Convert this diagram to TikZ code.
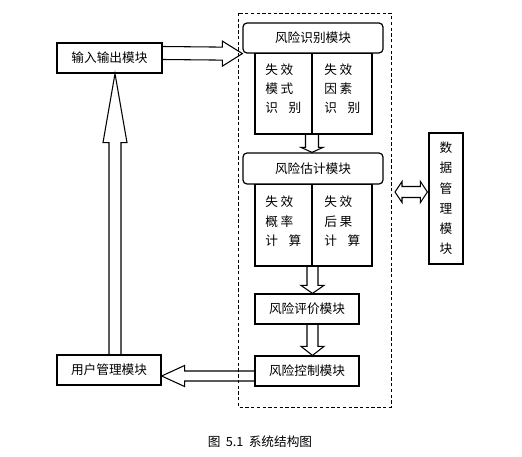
\documentclass[tikz,border=0pt]{standalone}
\usepackage{fontspec}
\setmainfont{Noto Sans CJK SC}
\usetikzlibrary{calc}
\begin{document}
\begin{tikzpicture}[x=0.75pt,y=-0.75pt,
  txt/.style={font=\fontsize{9.5}{11}\selectfont,inner sep=0pt},
  box/.style={draw,line width=0.9pt,inner sep=0pt,font=\fontsize{9.5}{11}\selectfont},
  rbox/.style={box,rounded corners=3pt},
  harrow/.style={draw,line width=0.8pt,line join=miter},
  dashbox/.style={draw,dashed,line width=0.7pt,dash pattern=on 2.5pt off 1.8pt}]
\useasboundingbox (0,0) rectangle (522,457);
% dashed frame
\draw[dashbox] (238,13) rectangle (391,407);
% boxes
\node[rbox,minimum width=105pt,minimum height=22.5pt] (rs) at (313,38) {风险识别模块};
\node[box,minimum width=87.75pt,minimum height=60pt,anchor=north] (rsc) at (313.5,53) {};
\node[rbox,minimum width=105pt,minimum height=23.25pt] (gj) at (313,168.5) {风险估计模块};
\node[box,minimum width=87.75pt,minimum height=60.75pt,anchor=north] (gjc) at (313.5,184) {};
\node[box,minimum width=78pt,minimum height=22.5pt] (pj) at (307,309) {风险评价模块};
\node[box,minimum width=78pt,minimum height=22.5pt] (kz) at (307,371) {风险控制模块};
\node[box,minimum width=78pt,minimum height=22.5pt] (yh) at (109,370) {用户管理模块};
\node[box,minimum width=78.75pt,minimum height=22.5pt] (io) at (109.5,58) {输入输出模块};
\node[box,minimum width=25.5pt,minimum height=98.25pt,align=center,
      font=\fontsize{9.5}{15.2}\selectfont] (sj) at (446,198.5) {数\\据\\管\\理\\模\\块};
% column dividers and thick bottoms
\draw[line width=0.8pt] ($(rsc.north)+(-1.5,0)$) -- ($(rsc.south)+(-1.5,0)$);
\draw[line width=1.7pt] (rsc.south west) -- (rsc.south east);
\draw[line width=0.8pt] ($(gjc.north)+(-1.5,0)$) -- ($(gjc.south)+(-1.5,0)$);
\draw[line width=1.7pt] (gjc.south west) -- (gjc.south east);
% column texts
\node[txt,anchor=west] (r1a) at (265,70) {失\hspace{2pt}效};
\node[txt,anchor=west] (r1b) at (265,89) {模\hspace{2pt}式};
\node[txt,anchor=west] (r1c) at (265,108) {识\hspace{8pt}别};
\node[txt,anchor=west] (r2a) at (324,70) {失\hspace{2pt}效};
\node[txt,anchor=west] (r2b) at (324,89) {因\hspace{2pt}素};
\node[txt,anchor=west] (r2c) at (324,108) {识\hspace{8pt}别};
\node[txt,anchor=west] (g1a) at (265,202) {失\hspace{2pt}效};
\node[txt,anchor=west] (g1b) at (265,222) {概\hspace{2pt}率};
\node[txt,anchor=west] (g1c) at (265,241) {计\hspace{8pt}算};
\node[txt,anchor=west] (g2a) at (324,202) {失\hspace{2pt}效};
\node[txt,anchor=west] (g2b) at (324,222) {后\hspace{2pt}果};
\node[txt,anchor=west] (g2c) at (324,241) {计\hspace{8pt}算};
% arrow io -> rs
\coordinate (s1) at ($(io.east)+(0,-5)$);
\coordinate (t1) at (rs.south west);
\draw[harrow] ($(s1)+(0,-6.5)$) -- ($(t1)+(-20,-6.5)$) -- ($(t1)+(-20,-12.5)$) -- (t1)
  -- ($(t1)+(-20,12.5)$) -- ($(t1)+(-20,6.5)$) -- ($(s1)+(0,6.5)$);
% arrow rsc -> gj
\coordinate (s2) at ($(rsc.south)+(-1.5,0)$);
\coordinate (t2) at (s2 |- gj.north);
\draw[harrow] ($(s2)+(-6.5,0)$) -- ($(t2)+(-6.5,-5)$) -- ($(t2)+(-11,-5)$) -- (t2)
  -- ($(t2)+(11,-5)$) -- ($(t2)+(6.5,-5)$) -- ($(s2)+(6.5,0)$);
% arrow gjc -> pj
\coordinate (s3) at ($(gjc.south)+(-1,0)$);
\coordinate (t3) at (s3 |- pj.north);
\draw[harrow] ($(s3)+(-5.5,0)$) -- ($(t3)+(-5.5,-8)$) -- ($(t3)+(-11.5,-8)$) -- (t3)
  -- ($(t3)+(11.5,-8)$) -- ($(t3)+(5.5,-8)$) -- ($(s3)+(5.5,0)$);
% arrow pj -> kz
\coordinate (s4) at (s3 |- pj.south);
\coordinate (t4) at (s3 |- kz.north);
\draw[harrow] ($(s4)+(-5.5,0)$) -- ($(t4)+(-5.5,-9)$) -- ($(t4)+(-11.5,-9)$) -- (t4)
  -- ($(t4)+(11.5,-9)$) -- ($(t4)+(5.5,-9)$) -- ($(s4)+(5.5,0)$);
% arrow kz -> yh
\coordinate (s5) at ($(kz.west)+(0,5)$);
\coordinate (t5) at (yh.east |- s5);
\draw[harrow] ($(s5)+(0,-5)$) -- ($(t5)+(23,-5)$) -- ($(t5)+(23,-10.5)$) -- (t5)
  -- ($(t5)+(23,10.5)$) -- ($(t5)+(23,5)$) -- ($(s5)+(0,5)$);
% arrow yh -> io
\coordinate (s6) at ($(yh.north)+(6,0)$);
\coordinate (t6) at (s6 |- io.south);
\draw[harrow] ($(s6)+(-6,0)$) -- ($(t6)+(-6,69)$) -- ($(t6)+(-12,69)$) -- (t6)
  -- ($(t6)+(12,69)$) -- ($(t6)+(6,69)$) -- ($(s6)+(6,0)$);
% double arrow to sj
\coordinate (t7) at ($(sj.west)+(-1,-6.5)$);
\coordinate (l7) at (395,192);
\draw[harrow] (l7) -- ($(l7)+(7,-10.5)$) -- ($(l7)+(7,-5.5)$) -- ($(t7)+(-7,-5.5)$)
  -- ($(t7)+(-7,-10.5)$) -- (t7) -- ($(t7)+(-7,10.5)$) -- ($(t7)+(-7,5.5)$)
  -- ($(l7)+(7,5.5)$) -- ($(l7)+(7,10.5)$) -- cycle;
% caption
\node[font=\fontsize{9.5}{11}\selectfont,inner sep=0pt] (cap) at (260,442) {图\hspace{4pt}5.1\hspace{4pt}系统结构图};
\end{tikzpicture}
\end{document}
